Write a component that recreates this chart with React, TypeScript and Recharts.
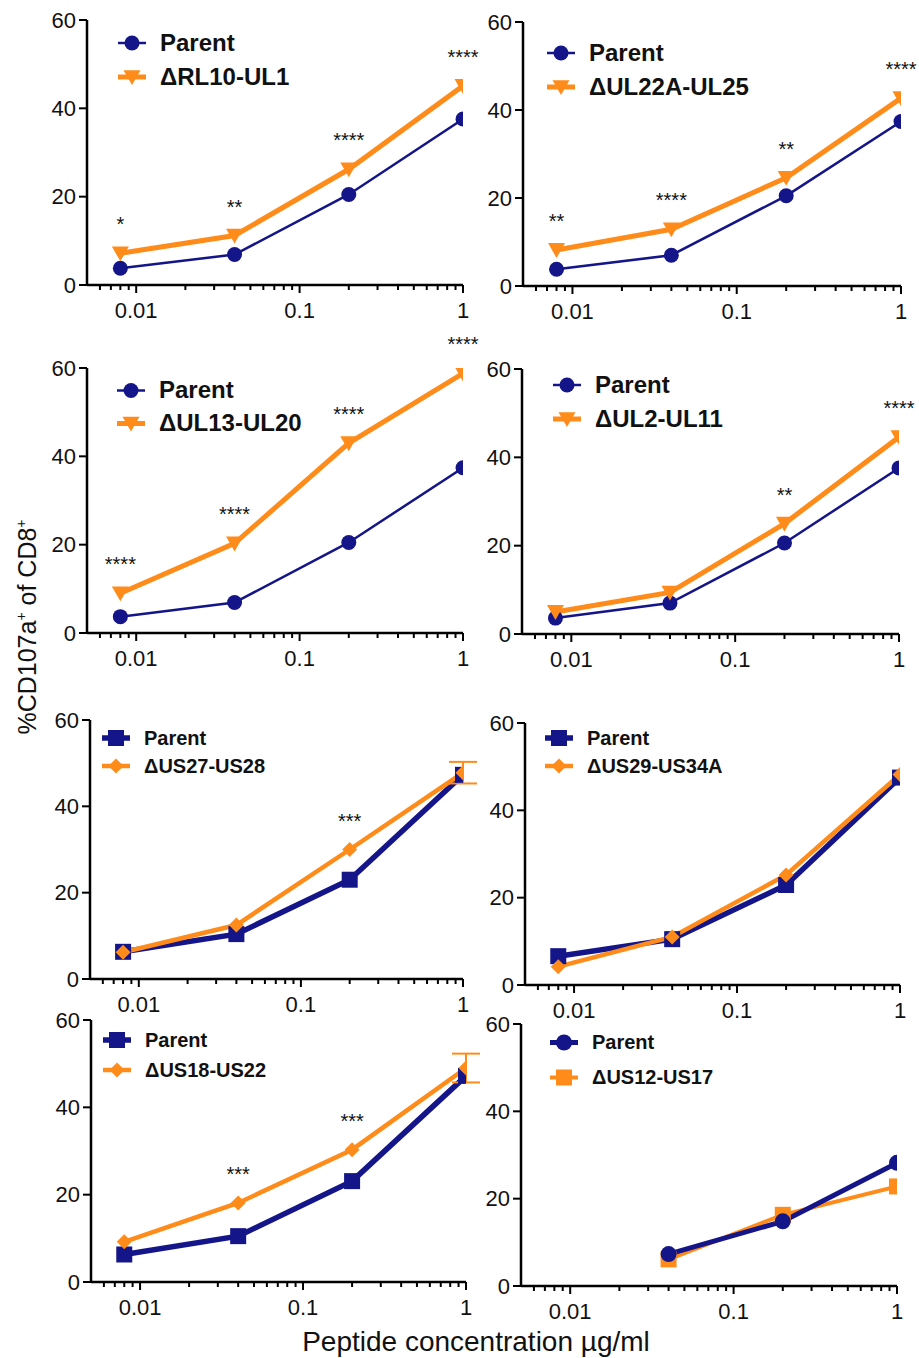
import React from 'react';
import { LineChart, Line, XAxis, YAxis, ErrorBar, LabelList, Legend } from 'recharts';

const FONT = '"Liberation Sans", Arial, Helvetica, sans-serif';
const NAVY = '#15158a';
const ORANGE = '#ff8c1a';

// peptide concentrations (µg/ml), 5-fold dilutions
const concentrations = [0.008, 0.04, 0.2, 1];
const concentrationsUS12 = [0.04, 0.2, 1];

// axis ticks
const xMajorTicks = [0.01, 0.1, 1];
const xMajorLabels = ['0.01', '0.1', '1'];
const xMinorTicks = [
  0.006, 0.007, 0.008, 0.009,
  0.02, 0.03, 0.04, 0.05, 0.06, 0.07, 0.08, 0.09,
  0.2, 0.3, 0.4, 0.5, 0.6, 0.7, 0.8, 0.9,
];
const yTicks = [0, 20, 40, 60];

// %CD107a+ of CD8+ values
const parentRL10 = [3.8, 6.9, 20.5, 37.6];
const mutantRL10 = [7.2, 11.2, 26.2, 45.1];
const sigRL10 = ['*', '**', '****', '****'];

const parentUL22A = [3.8, 7.0, 20.5, 37.4];
const mutantUL22A = [8.2, 12.9, 24.6, 42.7];
const sigUL22A = ['**', '****', '**', '****'];

const parentUL13 = [3.7, 6.9, 20.5, 37.4];
const mutantUL13 = [9.0, 20.3, 43.0, 58.8];
const sigUL13 = ['****', '****', '****', '****'];

const parentUL2 = [3.6, 7.0, 20.6, 37.6];
const mutantUL2 = [5.0, 9.4, 25.0, 44.6];
const sigUL2 = ['', '', '**', '****'];

const parentUS27 = [6.3, 10.4, 23.0, 47.3];
const mutantUS27 = [6.2, 12.5, 30.0, 47.8];
const errUS27 = [null, null, null, 2.5];
const sigUS27 = ['', '', '***', ''];

const parentUS29 = [6.6, 10.5, 22.9, 47.5];
const mutantUS29 = [4.2, 11.0, 25.2, 48.2];

const parentUS18 = [6.3, 10.5, 23.1, 47.2];
const mutantUS18 = [9.2, 18.1, 30.3, 49.0];
const errUS18 = [null, null, null, 3.3];
const sigUS18 = ['', '***', '***', ''];

const parentUS12 = [7.3, 14.8, 28.2];
const mutantUS12 = [6.1, 16.3, 22.8];

type MarkerKind = 'circle' | 'triangle' | 'square' | 'diamond';

const Marker = ({ kind, cx, cy, color, size }: { kind: MarkerKind; cx: number; cy: number; color: string; size: number }) => {
  const h = size / 2;
  if (kind === 'circle') return <circle cx={cx} cy={cy} r={h} fill={color} />;
  if (kind === 'square') return <rect x={cx - h} y={cy - h} width={size} height={size} fill={color} />;
  if (kind === 'diamond')
    return <polygon points={`${cx},${cy - h} ${cx + h},${cy} ${cx},${cy + h} ${cx - h},${cy}`} fill={color} />;
  return <polygon points={`${cx - h},${cy - h * 0.8} ${cx + h},${cy - h * 0.8} ${cx},${cy + h * 0.95}`} fill={color} />;
};

const LogTick = (props: any) => {
  const { x, y, payload } = props;
  const idx = xMajorTicks.indexOf(payload.value);
  const major = idx >= 0;
  return (
    <g>
      <line x1={x} x2={x} y1={y} y2={y + (major ? 8 : 5)} stroke="#000" strokeWidth={2} />
      {major && (
        <text x={x} y={y + 33} textAnchor="middle" fontSize={22} fontFamily={FONT} fill="#111">
          {xMajorLabels[idx]}
        </text>
      )}
    </g>
  );
};

const renderStar = (props: any) => {
  const x = props.x ?? props.viewBox?.x;
  const y = props.y ?? props.viewBox?.y;
  if (!props.value) return null;
  return (
    <text x={x} y={y - 22} textAnchor="middle" fontSize={20} fontFamily={FONT} fill="#111">
      {props.value}
    </text>
  );
};

type SeriesStyle = { kind: MarkerKind; size: number; width: number };

type PanelDef = {
  x: number[];
  parent: number[];
  mutant: number[];
  mutantName: string;
  sig?: string[];
  err?: (number | null)[];
  parentStyle: SeriesStyle;
  mutantStyle: SeriesStyle;
  mutantOnTop: boolean;
  // geometry in page pixels
  axisX: number;
  xOne: number;
  yTop: number;
  yBottom: number;
  legX: number;
  legY: number;
  legGap: number;
  legFont: number;
};

const circleThin: SeriesStyle = { kind: 'circle', size: 15, width: 2.5 };
const triangleThick: SeriesStyle = { kind: 'triangle', size: 17, width: 5 };
const squareThick: SeriesStyle = { kind: 'square', size: 16, width: 5.5 };
const diamondThick: SeriesStyle = { kind: 'diamond', size: 15, width: 4.5 };

const panels: PanelDef[] = [
  {
    x: concentrations, parent: parentRL10, mutant: mutantRL10, mutantName: 'ΔRL10-UL1', sig: sigRL10,
    parentStyle: circleThin, mutantStyle: triangleThick, mutantOnTop: true,
    axisX: 87, xOne: 463, yTop: 20, yBottom: 285, legX: 118, legY: 43, legGap: 34, legFont: 24,
  },
  {
    x: concentrations, parent: parentUL22A, mutant: mutantUL22A, mutantName: 'ΔUL22A-UL25', sig: sigUL22A,
    parentStyle: circleThin, mutantStyle: triangleThick, mutantOnTop: true,
    axisX: 523, xOne: 901, yTop: 22, yBottom: 286, legX: 547, legY: 53, legGap: 34, legFont: 24,
  },
  {
    x: concentrations, parent: parentUL13, mutant: mutantUL13, mutantName: 'ΔUL13-UL20', sig: sigUL13,
    parentStyle: circleThin, mutantStyle: triangleThick, mutantOnTop: true,
    axisX: 87, xOne: 463, yTop: 368, yBottom: 633, legX: 117, legY: 390, legGap: 33, legFont: 24,
  },
  {
    x: concentrations, parent: parentUL2, mutant: mutantUL2, mutantName: 'ΔUL2-UL11', sig: sigUL2,
    parentStyle: circleThin, mutantStyle: triangleThick, mutantOnTop: true,
    axisX: 522, xOne: 899, yTop: 369, yBottom: 634, legX: 553, legY: 385, legGap: 34, legFont: 24,
  },
  {
    x: concentrations, parent: parentUS27, mutant: mutantUS27, mutantName: 'ΔUS27-US28', sig: sigUS27, err: errUS27,
    parentStyle: squareThick, mutantStyle: diamondThick, mutantOnTop: true,
    axisX: 90, xOne: 463, yTop: 720, yBottom: 979, legX: 102, legY: 738, legGap: 28, legFont: 20,
  },
  {
    x: concentrations, parent: parentUS29, mutant: mutantUS29, mutantName: 'ΔUS29-US34A',
    parentStyle: squareThick, mutantStyle: diamondThick, mutantOnTop: true,
    axisX: 525, xOne: 900, yTop: 723, yBottom: 985, legX: 545, legY: 738, legGap: 28, legFont: 20,
  },
  {
    x: concentrations, parent: parentUS18, mutant: mutantUS18, mutantName: 'ΔUS18-US22', sig: sigUS18, err: errUS18,
    parentStyle: squareThick, mutantStyle: diamondThick, mutantOnTop: true,
    axisX: 91, xOne: 466, yTop: 1020, yBottom: 1282, legX: 103, legY: 1040, legGap: 30, legFont: 20,
  },
  {
    x: concentrationsUS12, parent: parentUS12, mutant: mutantUS12, mutantName: 'ΔUS12-US17',
    parentStyle: { kind: 'circle', size: 16, width: 5 }, mutantStyle: { kind: 'square', size: 16, width: 4 }, mutantOnTop: false,
    axisX: 521, xOne: 897, yTop: 1024, yBottom: 1286, legX: 550, legY: 1042, legGap: 35, legFont: 20,
  },
];

const LegendSymbol = ({ style, color, h }: { style: SeriesStyle; color: string; h: number }) => (
  <svg width={28} height={h} style={{ display: 'block', flex: 'none' }}>
    <line x1={0} x2={28} y1={h / 2} y2={h / 2} stroke={color} strokeWidth={style.width} />
    <Marker kind={style.kind} cx={14} cy={h / 2} color={color} size={style.size} />
  </svg>
);

const TOP = 42;

const Panel = ({ p }: { p: PanelDef }) => {
  const chartLeft = p.axisX - 70;
  const chartTop = p.yTop - TOP;
  const width = 70 + (p.xOne - p.axisX) + 22;
  const height = TOP + (p.yBottom - p.yTop) + 45;
  const data = p.x.map((x, i) => ({
    x,
    parent: p.parent[i],
    mutant: p.mutant[i],
    sig: p.sig ? p.sig[i] : '',
    err: p.err ? p.err[i] : null,
  }));

  const parentLine = (
    <Line
      key="parent"
      dataKey="parent"
      name="Parent"
      stroke={NAVY}
      strokeWidth={p.parentStyle.width}
      isAnimationActive={false}
      dot={(d: any) => (
        <Marker key={`p${d.index}`} kind={p.parentStyle.kind} cx={d.cx} cy={d.cy} color={NAVY} size={p.parentStyle.size} />
      )}
      activeDot={false}
    />
  );
  const mutantLine = (
    <Line
      key="mutant"
      dataKey="mutant"
      name={p.mutantName}
      stroke={ORANGE}
      strokeWidth={p.mutantStyle.width}
      isAnimationActive={false}
      dot={(d: any) => (
        <Marker key={`m${d.index}`} kind={p.mutantStyle.kind} cx={d.cx} cy={d.cy} color={ORANGE} size={p.mutantStyle.size} />
      )}
      activeDot={false}
    >
      {p.err && <ErrorBar dataKey="err" direction="y" width={14} stroke={ORANGE} strokeWidth={2} isAnimationActive={false} />}
      {p.sig && <LabelList dataKey="sig" content={renderStar} />}
    </Line>
  );

  const rows = [
    { name: 'Parent', style: p.parentStyle, color: NAVY },
    { name: p.mutantName, style: p.mutantStyle, color: ORANGE },
  ];

  return (
    <div style={{ position: 'absolute', left: chartLeft, top: chartTop }}>
      <LineChart width={width} height={height} data={data} margin={{ top: TOP, right: 22, bottom: 5, left: 10 }}>
        <XAxis
          dataKey="x"
          type="number"
          scale="log"
          domain={[0.005, 1]}
          allowDataOverflow
          ticks={[...xMinorTicks, ...xMajorTicks].sort((a, b) => a - b)}
          interval={0}
          tick={<LogTick />}
          tickLine={false}
          tickSize={0}
          tickMargin={0}
          height={40}
          axisLine={{ stroke: '#000', strokeWidth: 2.5 }}
        />
        <YAxis
          type="number"
          domain={[0, 60]}
          ticks={yTicks}
          allowDataOverflow
          width={60}
          tickSize={8}
          tickMargin={3}
          tick={{ fontSize: 22, fontFamily: FONT, fill: '#111' }}
          tickLine={{ stroke: '#000', strokeWidth: 2 }}
          axisLine={{ stroke: '#000', strokeWidth: 2.5 }}
        />
        {p.mutantOnTop ? [parentLine, mutantLine] : [mutantLine, parentLine]}
        <Legend
          layout="vertical"
          align="center"
          verticalAlign="middle"
          wrapperStyle={{ left: p.legX - chartLeft, top: p.legY - chartTop - p.legGap / 2, width: 'auto', height: 'auto' }}
          content={() => (
            <div>
              {rows.map((r) => (
                <div key={r.name} style={{ display: 'flex', alignItems: 'center', height: p.legGap }}>
                  <LegendSymbol style={r.style} color={r.color} h={p.legGap} />
                  <span
                    style={{
                      marginLeft: 14,
                      fontFamily: FONT,
                      fontWeight: 'bold',
                      fontSize: p.legFont,
                      color: '#111',
                      whiteSpace: 'nowrap',
                    }}
                  >
                    {r.name}
                  </span>
                </div>
              ))}
            </div>
          )}
        />
      </LineChart>
    </div>
  );
};

export default function App() {
  return (
    <div style={{ position: 'absolute', left: 0, top: 0, width: 919, height: 1358, background: '#fff', overflow: 'hidden' }}>
      <svg width={919} height={1358} style={{ position: 'absolute', left: 0, top: 0 }}>
        <text transform="translate(36,627) rotate(-90)" textAnchor="middle" fontSize={25} fontFamily={FONT} fill="#111">
          %CD107a<tspan dy={-10} fontSize={14}>+</tspan>
          <tspan dy={10}> of CD8</tspan>
          <tspan dy={-10} fontSize={14}>+</tspan>
        </text>
        <text x={476} y={1351} textAnchor="middle" fontSize={28} fontFamily={FONT} fill="#111">
          Peptide concentration µg/ml
        </text>
      </svg>
      {panels.map((p) => (
        <Panel key={p.mutantName} p={p} />
      ))}
    </div>
  );
}
